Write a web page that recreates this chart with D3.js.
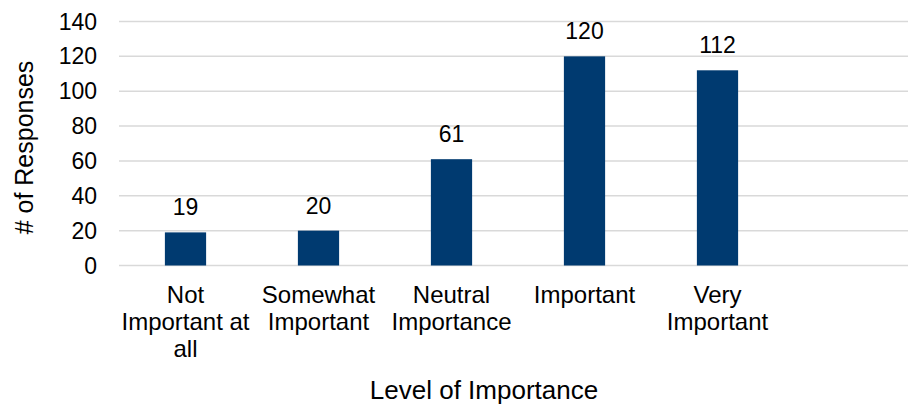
<!DOCTYPE html>
<html><head><meta charset="utf-8">
<script src="https://cdn.jsdelivr.net/npm/d3@7"></script>
<style>body{margin:0;background:#fff}svg{display:block}text{font-family:"Liberation Sans",Arial,sans-serif;fill:#000}</style>
</head><body><svg id="c" width="908" height="404"></svg>
<script>
const categories = [["Not","Important at","all"],["Somewhat","Important"],["Neutral","Importance"],["Important"],["Very","Important"]];
const categoryKeys = ["Not Important at all","Somewhat Important","Neutral Importance","Important","Very Important"];
const values = [19,20,61,120,112];
const yTicks = [0,20,40,60,80,100,120,140];

const svg = d3.select("#c");
const x = d3.scaleBand().domain([...categoryKeys, ""]).range([119, 917]).paddingInner(0.69).paddingOuter(0.345);
const y = d3.scaleLinear().domain([0,140]).range([265.5, 21.5]);

svg.append("g").selectAll("line").data(yTicks).join("line")
  .attr("x1",119).attr("x2",908).attr("y1",d=>y(d)).attr("y2",d=>y(d))
  .attr("stroke","#d9d9d9").attr("stroke-width",1.5);

svg.append("g").selectAll("text").data(yTicks).join("text")
  .attr("x",97).attr("y",d=>y(d)).attr("dy","0.35em").attr("text-anchor","end")
  .style("font-size","23px").text(d=>d);

svg.append("g").selectAll("rect").data(values).join("rect")
  .attr("x",(d,i)=>x(categoryKeys[i])).attr("width",x.bandwidth())
  .attr("y",d=>y(d)).attr("height",d=>y(0)-y(d)).attr("fill","#003A70");

svg.append("g").selectAll("text").data(values).join("text")
  .attr("x",(d,i)=>x(categoryKeys[i])+x.bandwidth()/2).attr("y",d=>y(d)-17)
  .attr("text-anchor","middle").style("font-size","23px").text(d=>d);

const cg = svg.append("g").selectAll("text").data(categories).join("text")
  .attr("text-anchor","middle").style("font-size","24px")
  .attr("transform",(d,i)=>`translate(${x(categoryKeys[i])+x.bandwidth()/2},302.5)`);
cg.selectAll("tspan").data(d=>d).join("tspan").attr("x",0).attr("dy",(d,i)=>i?27:0).text(d=>d);

svg.append("text").attr("x",484).attr("y",399).attr("text-anchor","middle").style("font-size","26px").text("Level of Importance");
svg.append("text").attr("transform","translate(33,147.5) rotate(-90)").attr("text-anchor","middle").style("font-size","25px").text("# of Responses");
</script></body></html>
